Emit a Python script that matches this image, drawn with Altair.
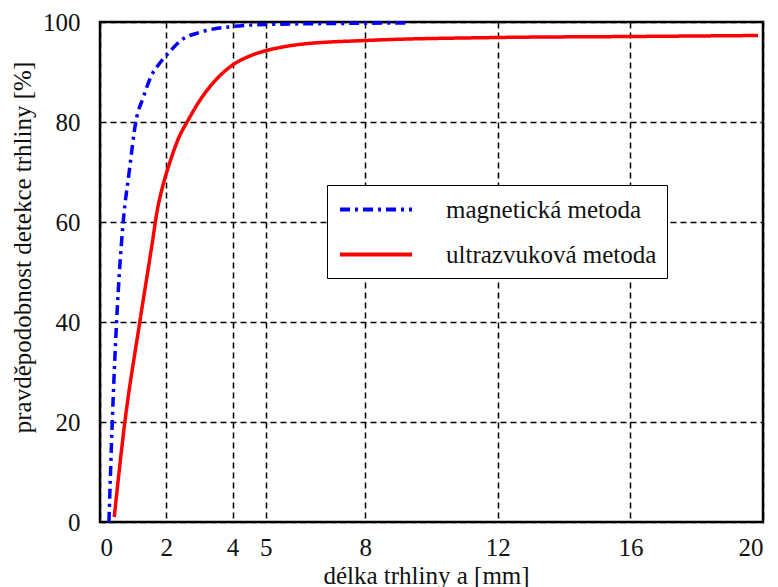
import altair as alt
import pandas as pd

mag_x = [0.27, 0.37, 0.5, 0.7, 0.88, 1.08, 1.31, 1.56, 1.76, 2.11, 2.46, 3.0, 4.0, 5.0, 7.0, 9.3]
mag_y = [0, 20, 40, 60, 70, 80, 85, 89.4, 91.4, 94.1, 96.4, 97.9, 99.1, 99.5, 99.7, 99.8]

ult_x = [0.43, 0.75, 1.2, 1.59, 1.71, 1.91, 2.11, 2.36, 2.66, 3.02, 3.52, 4.02, 4.52,
         5.08, 5.43, 6.0, 8.0, 12.0, 16.0, 19.85]
ult_y = [1, 20, 40, 56.4, 61.7, 67.6, 72.0, 76.6, 80.4, 84.4, 88.6, 91.5, 93.2,
         94.4, 94.9, 95.5, 96.3, 96.9, 97.1, 97.3]

x_ticks = [0, 2, 4, 5, 8, 12, 16, 20]
y_ticks = [0, 20, 40, 60, 80, 100]

names = ["magnetická metoda", "ultrazvuková metoda"]

rows = []
for i, (x, y) in enumerate(zip(mag_x, mag_y)):
    rows.append({"a": x, "p": y, "metoda": names[0], "i": i})
for i, (x, y) in enumerate(zip(ult_x, ult_y)):
    rows.append({"a": x, "p": y, "metoda": names[1], "i": i})
df = pd.DataFrame(rows)

FONT = "Liberation Serif, Times New Roman, DejaVu Serif, serif"

def make_legend():
    return alt.Legend(title=None, orient="none", legendX=227, legendY=163,
                      symbolType="M-0.92,0H4.84", symbolSize=625,
                      symbolStrokeWidth=4, labelFont=FONT,
                      labelFontSize=25, labelColor="#111",
                      labelOffset=80, rowPadding=17,
                      padding=10, strokeColor="black",
                      fillColor="white", labelLimit=400)

chart = alt.Chart(df).mark_line(strokeWidth=3.5, interpolate="monotone").encode(
    x=alt.X("a:Q", title="délka trhliny a [mm]",
            scale=alt.Scale(domain=[0, 20], nice=False),
            axis=alt.Axis(values=x_ticks, format="d")),
    y=alt.Y("p:Q", title="pravděpodobnost detekce trhliny [%]",
            scale=alt.Scale(domain=[0, 100], nice=False),
            axis=alt.Axis(values=y_ticks)),
    color=alt.Color("metoda:N",
                    scale=alt.Scale(domain=names, range=["#0000ff", "#ff0000"]),
                    legend=make_legend()),
    strokeDash=alt.StrokeDash("metoda:N",
                              scale=alt.Scale(domain=names, range=[[10, 5, 3, 5], [1, 0]]),
                              legend=make_legend()),
    order="i:Q",
).properties(
    width=663, height=500,
    autosize=alt.AutoSizeParams(type="none"),
    padding={"left": 100, "top": 22, "right": 15, "bottom": 65},
    background="white",
).configure_view(
    stroke="black", strokeWidth=2.5
).configure_axis(
    domain=False, ticks=False,
    grid=True, gridColor="black", gridDash=[6, 4], gridWidth=1.5, gridOpacity=1,
    labelFont=FONT, labelFontSize=25, labelColor="#111",
    titleFont=FONT, titleFontSize=25, titleFontWeight="normal", titleColor="#111",
).configure_axisX(
    labelPadding=13, titleX=326, titleY=61, titleBaseline="alphabetic",
).configure_axisY(
    labelPadding=20, titleX=-70, titleY=225, titleBaseline="alphabetic",
)

chart.save("out.html", embed_options={"renderer": "svg", "actions": False})
